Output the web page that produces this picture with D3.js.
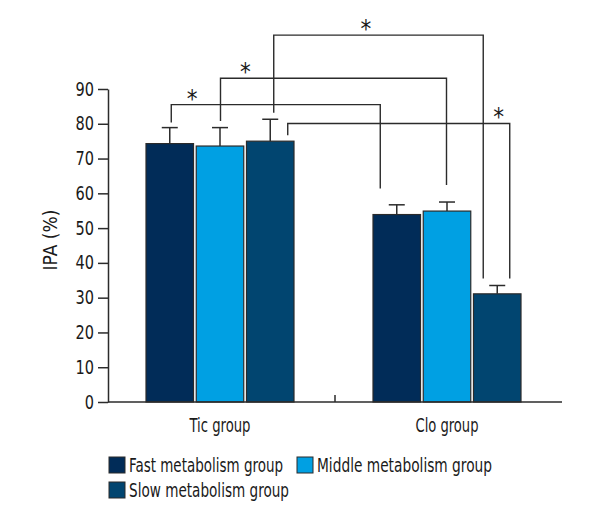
<!DOCTYPE html>
<html>
<head>
<meta charset="utf-8">
<script src="https://cdn.jsdelivr.net/npm/d3@7"></script>
<style>
  html, body { margin: 0; padding: 0; background: #fff; }
  svg { display: block; }
  text { font-family: "Liberation Sans Narrow", "DejaVu Sans Condensed", "DejaVu Sans", sans-serif; fill: #1a1a1a; }
</style>
</head>
<body>
<svg id="chart" width="600" height="520"></svg>
<script>
// ---- data ----
const groups = ["Tic group", "Clo group"];
const seriesNames = ["Fast metabolism group", "Middle metabolism group", "Slow metabolism group"];
const seriesColors = ["#012c58", "#00a0e3", "#014570"];
const fastValues   = [74.3, 53.9];
const middleValues = [73.6, 54.9];
const slowValues   = [75.0, 31.1];
const fastErr   = [4.6, 2.8];
const middleErr = [5.3, 2.6];
const slowErr   = [6.3, 2.4];
const yTicks = [0, 10, 20, 30, 40, 50, 60, 70, 80, 90];
const yLabel = "IPA (%)";
// significance brackets: from [group, series] to [group, series], with levels in data units
const bracketFrom  = [[0, 0], [0, 1], [0, 2], [0, 2]];
const bracketTo    = [[1, 0], [1, 1], [1, 2], [1, 2]];
const bracketLeftY = [80.4, 80.8, 83.2, 76.7];
const bracketTopY  = [85.5, 93.1, 105.5, 80.1];
const bracketRightY= [61.4, 62.4, 35.5, 35.5];
const bracketMark  = ["*", "*", "*", "*"];

const values = [fastValues, middleValues, slowValues];
const errors = [fastErr, middleErr, slowErr];

// ---- layout ----
const svg = d3.select("#chart");
const x0 = d3.scaleBand().domain(groups).range([108, 562]).padding(0);
const x1 = d3.scaleBand().domain(d3.range(seriesNames.length)).range([38, 186]).paddingInner(0.054).paddingOuter(0);
const y = d3.scaleLinear().domain([0, 90]).range([402, 89]);
const ink = "#2b2b2b";

// condense text horizontally to mimic a condensed typeface
function condense(sel, target) {
  sel.each(function() {
    const n = this.getComputedTextLength();
    const w = target ? target : n * 0.85;
    if (n > w) { this.setAttribute("textLength", w); this.setAttribute("lengthAdjust", "spacingAndGlyphs"); }
  });
}

// bars
const data = [];
groups.forEach((g, gi) => seriesNames.forEach((s, si) => {
  data.push({g, gi, si, v: values[si][gi], e: errors[si][gi]});
}));
const barX = d => x0(d.g) + x1(d.si);
const bw = x1.bandwidth();

svg.append("g").selectAll("rect").data(data).join("rect")
  .attr("x", d => barX(d))
  .attr("y", d => y(d.v))
  .attr("width", bw)
  .attr("height", d => y(0) - y(d.v))
  .attr("fill", d => seriesColors[d.si])
  .attr("stroke", ink)
  .attr("stroke-width", 1.2);

// error bars
const eg = svg.append("g").attr("stroke", ink).attr("stroke-width", 1.5).attr("fill", "none");
data.forEach(d => {
  const cx = barX(d) + bw / 2;
  eg.append("line").attr("x1", cx).attr("x2", cx).attr("y1", y(d.v)).attr("y2", y(d.v + d.e));
  eg.append("line").attr("x1", cx - 8).attr("x2", cx + 8).attr("y1", y(d.v + d.e)).attr("y2", y(d.v + d.e));
});

// brackets (attach offsets relative to bar centre, in px)
const leftOffsets  = [1.5, 0.5, 3.5, 17.5];
const rightOffsets = [-16.5, -0.5, -14, 12.5];
const starFrac     = [0.1, 0.11, 0.44, 0.95];
const bg = svg.append("g").attr("stroke", ink).attr("stroke-width", 1.4).attr("fill", "none");
bracketFrom.forEach((f, i) => {
  const t = bracketTo[i];
  const xl = x0(groups[f[0]]) + x1(f[1]) + bw / 2 + leftOffsets[i];
  const xr = x0(groups[t[0]]) + x1(t[1]) + bw / 2 + rightOffsets[i];
  const pts = [[xl, y(bracketLeftY[i])], [xl, y(bracketTopY[i])], [xr, y(bracketTopY[i])], [xr, y(bracketRightY[i])]];
  bg.append("path").attr("d", d3.line()(pts));
  svg.append("text")
    .attr("x", xl + (xr - xl) * starFrac[i])
    .attr("y", y(bracketTopY[i]) + 2)
    .attr("text-anchor", "middle")
    .attr("font-size", 24)
    .text(bracketMark[i]);
});

// y axis
const yAxis = svg.append("g").attr("transform", "translate(108,0)")
  .call(d3.axisLeft(y).tickValues(yTicks).tickSize(10).tickSizeOuter(0).tickPadding(4));
yAxis.selectAll("path, line").attr("stroke", ink).attr("stroke-width", 1.5);
yAxis.selectAll("text").attr("font-size", 19).attr("font-family", null).attr("fill", "#1a1a1a");
condense(yAxis.selectAll("text"));

// x axis baseline with upward ticks at band edges
const xa = svg.append("g").attr("stroke", ink).attr("stroke-width", 1.5);
xa.append("line").attr("x1", 108).attr("x2", x0.range()[1]).attr("y1", y(0)).attr("y2", y(0));
groups.slice(1).forEach(g => {
  xa.append("line").attr("x1", x0(g)).attr("x2", x0(g)).attr("y1", y(0)).attr("y2", y(0) - 7);
});
const groupLabelWidths = [61, 63];
svg.append("g").selectAll("text").data(groups).join("text")
  .attr("x", g => x0(g) + x1.range()[0] + (x1.range()[1] - x1.range()[0]) / 2)
  .attr("y", 432)
  .attr("text-anchor", "middle")
  .attr("font-size", 19)
  .text(g => g)
  .each(function(g, i) { condense(d3.select(this), groupLabelWidths[i]); });

// y label
const yl = svg.append("text")
  .attr("transform", "translate(57,240) rotate(-90)")
  .attr("text-anchor", "middle")
  .attr("font-size", 19)
  .text(yLabel);
condense(yl, 72);

// legend
const legendPos = [[109, 457], [297, 457], [109, 482]];
const legendWidths = [154, 175, 160];
const lg = svg.append("g");
seriesNames.forEach((s, i) => {
  const [lx, ly] = legendPos[i];
  lg.append("rect").attr("x", lx).attr("y", ly).attr("width", 16).attr("height", 16)
    .attr("fill", seriesColors[i]).attr("stroke", ink).attr("stroke-width", 1);
  const t = lg.append("text").attr("x", lx + 20).attr("y", ly + 15).attr("font-size", 19).text(s);
  condense(t, legendWidths[i]);
});
</script>
</body>
</html>
